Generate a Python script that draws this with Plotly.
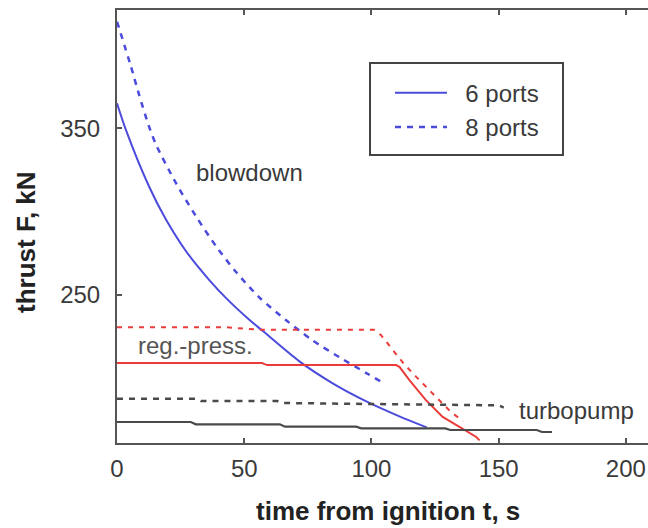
import plotly.graph_objects as go

# ---- data ----
t_blow6 = [0, 3.5, 12.6, 19.3, 27.2, 36.2, 42.9, 52, 57.1, 71.7, 84.6, 98, 111, 121.7]
F_blow6 = [365, 349, 315, 295, 276, 259, 248, 235, 228.5, 210, 197, 186, 177, 170.4]

t_blow8 = [0, 5.5, 8.7, 12.6, 15.4, 23.2, 31.1, 39, 46.9, 55.9, 66.5, 76.8, 87.4, 98, 104.3]
F_blow8 = [414, 387, 370, 351, 340, 317, 297, 279, 263.5, 248.5, 234.7, 222.7, 212.5, 203, 197.4]

t_reg6 = [0, 57, 59, 109.7, 111, 115, 121.5, 128, 134.6, 141.2, 142.5]
F_reg6 = [209, 209, 207.8, 207.8, 206.7, 198.6, 186.6, 176.7, 170.7, 164.6, 162.6]

t_reg8 = [0, 43, 56, 101, 103.8, 108.6, 112.6, 117.8, 122.9, 126.8, 131, 136]
F_reg8 = [230.5, 230.5, 229, 229, 225.7, 216.7, 208.8, 200.4, 192.6, 186.6, 180, 174]

t_turbo6 = [0, 29, 31, 64, 66, 94, 96, 129, 131, 165, 167, 171]
F_turbo6 = [173.6, 173.6, 172.2, 172.2, 170.8, 170.8, 169.8, 169.8, 168.8, 168.8, 167.6, 167.6]

t_turbo8 = [0, 31, 33, 63, 65, 100, 150, 152]
F_turbo8 = [187.6, 187.6, 186.2, 186.2, 185, 184.5, 183.6, 182.3]

x_ticks = [0, 50, 100, 150, 200]
y_ticks = [250, 350]

BLUE = "#4b4bdc"
RED = "#ec3b3b"
DARK = "#4a4a4a"
TXT = "#3a3a3a"
FONT = "Liberation Sans, Arial, sans-serif"
NB = "\u00a0\u00a0"

fig = go.Figure()
fig.add_trace(go.Scatter(x=t_blow6, y=F_blow6, mode="lines", name=NB + "6 ports",
                         line=dict(color=BLUE, width=2, shape="spline", smoothing=0.8)))
fig.add_trace(go.Scatter(x=t_blow8, y=F_blow8, mode="lines", name=NB + "8 ports",
                         line=dict(color=BLUE, width=2.5, dash="6px,6px", shape="spline", smoothing=0.8)))
fig.add_trace(go.Scatter(x=t_reg6, y=F_reg6, mode="lines", showlegend=False,
                         line=dict(color=RED, width=2)))
fig.add_trace(go.Scatter(x=t_reg8, y=F_reg8, mode="lines", showlegend=False,
                         line=dict(color=RED, width=2, dash="5px,6px")))
fig.add_trace(go.Scatter(x=t_turbo6, y=F_turbo6, mode="lines", showlegend=False,
                         line=dict(color=DARK, width=2.2)))
fig.add_trace(go.Scatter(x=t_turbo8, y=F_turbo8, mode="lines", showlegend=False,
                         line=dict(color=DARK, width=2.5, dash="6px,6px")))

fig.update_layout(
    width=648, height=528,
    margin=dict(l=117, r=0, t=10, b=85),
    paper_bgcolor="white", plot_bgcolor="white",
    font=dict(family=FONT, color=TXT, size=24),
    showlegend=True,
    legend=dict(x=(390 - 117) / 531, y=0.86, xanchor="left", yanchor="top",
                bgcolor="rgba(0,0,0,0)", borderwidth=0,
                font=dict(size=24, color=TXT), itemwidth=52,
                tracegroupgap=0),
    xaxis=dict(range=[0, 208.7], tickvals=x_ticks, ticktext=[str(v) for v in x_ticks],
               showgrid=False, zeroline=False, showline=True, linecolor="#555555",
               linewidth=2, mirror="ticks", ticks="inside", ticklen=5, tickcolor="#555555",
               tickwidth=2, tickfont=dict(size=24, color=TXT), ticklabelstandoff=3),
    yaxis=dict(range=[161, 421], tickvals=y_ticks, ticktext=[str(v) for v in y_ticks],
               showgrid=False, zeroline=False, showline=True, linecolor="#555555",
               linewidth=2, mirror=False, ticks="inside", ticklen=5, tickcolor="#555555",
               tickwidth=2, tickfont=dict(size=24, color=TXT), ticklabelstandoff=10),
    shapes=[dict(type="rect", xref="paper", yref="paper",
                 x0=(370 - 117) / 531, x1=(563 - 117) / 531,
                 y0=(443 - 155) / 433, y1=(443 - 63) / 433,
                 line=dict(color="#444444", width=2))],
    annotations=[
        dict(text="blowdown", x=51.9, y=323.6, xref="x", yref="y", showarrow=False,
             font=dict(size=24, color=TXT)),
        dict(text="reg.-press.", x=30.7, y=219.7, xref="x", yref="y", showarrow=False,
             font=dict(size=24, color="#555555")),
        dict(text="turbopump", x=180.4, y=180.6, xref="x", yref="y", showarrow=False,
             font=dict(size=24, color=TXT)),
        dict(text="<b>time from ignition t, s</b>", x=(388 - 117) / 531, y=(443 - 511) / 433,
             xref="paper", yref="paper", xanchor="center", yanchor="middle",
             showarrow=False, font=dict(size=26, color="#222222")),
        dict(text="<b>thrust F, kN</b>", x=(26 - 117) / 531, y=(443 - 242) / 433,
             xref="paper", yref="paper", xanchor="center", yanchor="middle",
             showarrow=False, textangle=-90, font=dict(size=26, color="#222222")),
    ],
)

fig.write_html("out.html")
